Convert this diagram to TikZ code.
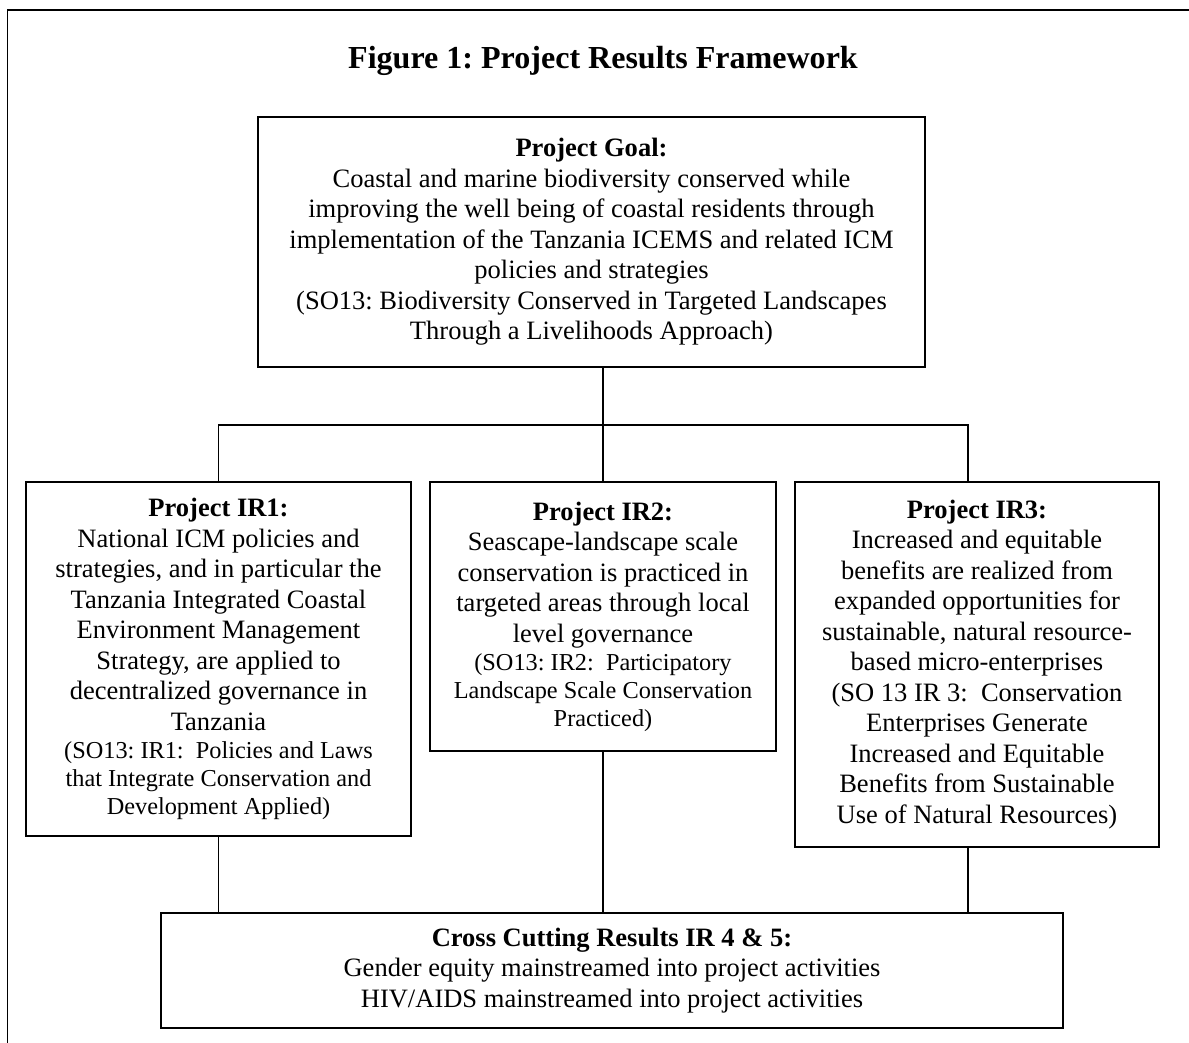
\documentclass[tikz,border=0pt]{standalone}
\usepackage{fontspec}
\setmainfont{Liberation Serif}
\usetikzlibrary{positioning}

\newcommand{\pxu}{0.4525pt}
\newcommand{\smalltxt}{\fontsize{11}{12.65}\selectfont}
\frenchspacing

\begin{document}
\begin{tikzpicture}[x=\pxu, y=-\pxu,
	box/.style={draw, line width=0.9pt, align=center, inner sep=0pt, font=\fontsize{12}{13.8}\selectfont},
	link/.style={line width=0.75pt}]
	\useasboundingbox (0,0) rectangle (1189,1043);

	% page frame, cut off at the right and bottom
	\draw[line width=0.9pt] (1189,10) -- (7.5,10) -- (7.5,1043);

	\node[font=\fontsize{14.5}{16.5}\selectfont\bfseries] (title) at (603,61) {Figure 1: Project Results Framework};

	\node[box, minimum width=667*\pxu, minimum height=250*\pxu] (goal) at (591.5,242) {%
		\textbf{Project Goal:}\\
		Coastal and marine biodiversity conserved while\\
		improving the well being of coastal residents through\\
		implementation of the Tanzania ICEMS and related ICM\\
		policies and strategies\\
		(SO13: Biodiversity Conserved in Targeted Landscapes\\
		Through a Livelihoods Approach)};

	\node[box, minimum width=385*\pxu, minimum height=354*\pxu] (ir1) at (218.5,659) {%
		\textbf{Project IR1:}\\
		National ICM policies and\\
		strategies, and in particular the\\
		Tanzania Integrated Coastal\\
		Environment Management\\
		Strategy, are applied to\\
		decentralized governance in\\
		Tanzania\\[-1.15pt]
		\smalltxt (SO13: IR1:\ \ Policies and Laws\\[-1.15pt]
		\smalltxt that Integrate Conservation and\\[-1.15pt]
		\smalltxt Development Applied)};

	\node[box, minimum width=346*\pxu, minimum height=269*\pxu] (ir2) at (603,616.5) {%
		\textbf{Project IR2:}\\
		Seascape-landscape scale\\
		conservation is practiced in\\
		targeted areas through local\\
		level governance\\[-1.15pt]
		\smalltxt (SO13: IR2:\ \ Participatory\\[-1.15pt]
		\smalltxt Landscape Scale Conservation\\[-1.15pt]
		\smalltxt Practiced)};

	\node[box, minimum width=364*\pxu, minimum height=365*\pxu] (ir3) at (977,664.5) {%
		\textbf{Project IR3:}\\
		Increased and equitable\\
		benefits are realized from\\
		expanded opportunities for\\
		sustainable, natural resource-\\
		based micro-enterprises\\
		(SO 13 IR 3:\ \ Conservation\\
		Enterprises Generate\\
		Increased and Equitable\\
		Benefits from Sustainable\\
		Use of Natural Resources)};

	\node[box, minimum width=902*\pxu, minimum height=115*\pxu] (cross) at (612,970.5) {%
		\textbf{Cross Cutting Results IR 4 \& 5:}\\
		Gender equity mainstreamed into project activities\\
		HIV/AIDS mainstreamed into project activities};

	% branching lines
	\coordinate (busL) at (218,425);
	\coordinate (busR) at (968,425);
	\draw[link] (goal.south -| ir2.north) -- (ir2.north);
	\draw[link] (ir1.north) -- (ir1.north |- busL) -- (busR) -- (busR |- ir3.north);

	\draw[link] (ir1.south) -- (ir1.south |- cross.north);
	\draw[link] (ir2.south) -- (ir2.south |- cross.north);
	\draw[link] (ir3.south -| busR) -- (busR |- cross.north);

\end{tikzpicture}
\end{document}
